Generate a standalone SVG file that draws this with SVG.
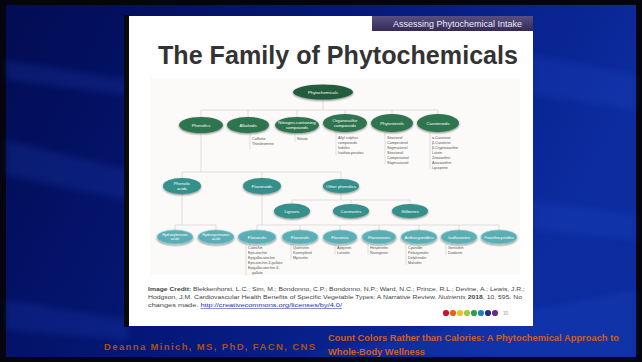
<svg xmlns="http://www.w3.org/2000/svg" width="642" height="362" viewBox="0 0 642 362">
<defs>
<linearGradient id="bg" x1="0" y1="0" x2="1" y2="0.3">
<stop offset="0" stop-color="#020c52"/>
<stop offset="0.5" stop-color="#05187a"/>
<stop offset="1" stop-color="#0c2ca0"/>
</linearGradient>
<linearGradient id="hdr" x1="0" y1="0" x2="0" y2="1">
<stop offset="0" stop-color="#5a5080"/>
<stop offset="1" stop-color="#332a58"/>
</linearGradient>
<filter id="sh" x="-30%" y="-40%" width="160%" height="200%">
<feGaussianBlur in="SourceAlpha" stdDeviation="0.8"/>
<feOffset dx="0.4" dy="0.8" result="b"/>
<feComponentTransfer><feFuncA type="linear" slope="0.5"/></feComponentTransfer>
<feMerge><feMergeNode/><feMergeNode in="SourceGraphic"/></feMerge>
</filter>
<filter id="soft" x="-10%" y="-10%" width="120%" height="120%">
<feGaussianBlur stdDeviation="3"/>
</filter>
</defs>
<style>
.l0{fill:#245c3c;filter:url(#sh)}
.l1{fill:#2d7450;filter:url(#sh)}
.l2{fill:#368f8a;filter:url(#sh)}
.l4{fill:#5aaeb4;stroke:#8fd3d8;stroke-width:0.6;filter:url(#sh)}
.nt{font-family:"Liberation Sans",Arial,sans-serif;font-size:4.3px;fill:#ffffff;text-anchor:middle}
.st{font-family:"Liberation Sans",Arial,sans-serif;font-size:3.7px;fill:#555555}
.cn{stroke:#cfcfcf;stroke-width:0.6;fill:none}
.br{stroke:#b8b8b8;stroke-width:0.4;fill:none}
.cr{font-family:"Liberation Sans",Arial,sans-serif;font-size:5.3px;fill:#444444}
</style>
<rect x="0" y="0" width="642" height="362" fill="#050510"/>
<rect x="6" y="5" width="630" height="352" fill="url(#bg)"/>
<g opacity="0.18" fill="#2a52d8" filter="url(#soft)">
<polygon points="6,140 128,170 128,200 6,175"/>
<polygon points="6,60 128,80 128,95 6,80"/>
<polygon points="533,55 636,75 636,110 533,95"/>
<polygon points="533,200 636,215 636,240 533,230"/>
<polygon points="300,357 636,290 636,357"/>
<polygon points="6,300 128,320 128,340 6,330"/>
</g>
<g id="slide">
<rect x="124" y="15" width="5" height="312" fill="#0a0a0a"/>
<rect x="129" y="16" width="404" height="310" fill="#ffffff"/>
<rect x="150" y="78" width="370" height="197" fill="#fbfaf8"/>
<rect x="372" y="16" width="161" height="15" fill="url(#hdr)"/>
<text x="393" y="27" font-family="'Liberation Sans',Arial,sans-serif" font-size="9" fill="#ececf4">Assessing Phytochemical Intake</text>
<text x="158" y="64" font-family="'Liberation Sans',Arial,sans-serif" font-size="25" font-weight="bold" fill="#333333" textLength="360" lengthAdjust="spacingAndGlyphs">The Family of Phytochemicals</text>
</g>
<g id="connectors">
<path class="cn" d="M323,99 V110 M201,110 H438 M201,110 V117 M248,110 V117 M297,110 V117 M345,110 V115 M392,110 V115 M438,110 V115"/>
<path class="cn" d="M201,133 V172 M182,172 H341 M182,172 V178 M262,172 V178 M341,172 V178"/>
<path class="cn" d="M341,194 V200 M292,200 H410 M292,200 V203 M351,200 V203 M410,200 V203"/>
<path class="cn" d="M182,194 V225 M175,225 H216 M175,225 V230 M216,225 V230"/>
<path class="cn" d="M262,194 V225 M257,225 H499 M257,225 V230 M300,225 V230 M340,225 V230 M379,225 V230 M419,225 V230 M459,225 V230 M499,225 V230"/>
<path class="br" d="M250,134 V149 M295,134 V142 M336,132 V155 M385,132 V164 M430,132 V169"/>
<path class="br" d="M246,244 V276 M291,244 V260 M335,244 V255 M368,244 V255 M406,244 V265 M446,244 V255"/>
</g>
<g id="n-phytochemicals"><ellipse class="l0" cx="323" cy="92" rx="30" ry="7.5"/><text class="nt" x="323" y="93.5">Phytochemicals</text></g>
<g id="n-phenolics"><ellipse class="l1" cx="201" cy="125" rx="22" ry="8"/><text class="nt" x="201" y="126.5">Phenolics</text></g>
<g id="n-alkaloids"><ellipse class="l1" cx="248" cy="125" rx="21" ry="8"/><text class="nt" x="248" y="126.5">Alkaloids</text>
<text class="st" x="252" y="140">Caffeine</text><text class="st" x="252" y="145">Theobromine</text></g>
<g id="n-nitrogen"><ellipse class="l1" cx="297" cy="125" rx="22" ry="8"/><text class="nt" x="297" y="124">Nitrogen-containing</text><text class="nt" x="297" y="129">compounds</text>
<text class="st" x="297" y="140">Nitrate</text></g>
<g id="n-organosulfur"><ellipse class="l1" cx="345" cy="123" rx="22" ry="9"/><text class="nt" x="345" y="122">Organosulfur</text><text class="nt" x="345" y="127">compounds</text>
<text class="st" x="338" y="139">Allyl sulphur</text><text class="st" x="338" y="144">compounds</text><text class="st" x="338" y="149">Indoles</text><text class="st" x="338" y="154">Isothiocyanates</text></g>
<g id="n-phytosterols"><ellipse class="l1" cx="392" cy="123" rx="21" ry="9"/><text class="nt" x="392" y="124.5">Phytosterols</text>
<text class="st" x="387" y="139">Sitosterol</text><text class="st" x="387" y="144">Campesterol</text><text class="st" x="387" y="149">Stigmasterol</text><text class="st" x="387" y="154">Sitostanol</text><text class="st" x="387" y="159">Campestanol</text><text class="st" x="387" y="164">Stigmastanol</text></g>
<g id="n-carotenoids"><ellipse class="l1" cx="438" cy="123" rx="21" ry="9"/><text class="nt" x="438" y="124.5">Carotenoids</text>
<text class="st" x="432" y="139">α-Carotene</text><text class="st" x="432" y="144">β-Carotene</text><text class="st" x="432" y="149">β-Cryptoxanthin</text><text class="st" x="432" y="154">Lutein</text><text class="st" x="432" y="159">Zeaxanthin</text><text class="st" x="432" y="164">Astaxanthin</text><text class="st" x="432" y="169">Lycopene</text></g>
<g id="n-phenolic-acids"><ellipse class="l2" cx="182" cy="186" rx="19" ry="8"/><text class="nt" x="182" y="185">Phenolic</text><text class="nt" x="182" y="190">acids</text></g>
<g id="n-flavonoids"><ellipse class="l2" cx="262" cy="186" rx="19" ry="8"/><text class="nt" x="262" y="187.5">Flavonoids</text></g>
<g id="n-other-phenolics"><ellipse class="l2" cx="341" cy="186" rx="18" ry="7"/><text class="nt" x="341" y="187.5">Other phenolics</text></g>
<g id="n-lignans"><ellipse class="l2" cx="292" cy="211" rx="18" ry="7.5"/><text class="nt" x="292" y="212.5">Lignans</text></g>
<g id="n-coumarins"><ellipse class="l2" cx="351" cy="211" rx="18" ry="7"/><text class="nt" x="351" y="212.5">Coumarins</text></g>
<g id="n-stilbenes"><ellipse class="l2" cx="410" cy="211" rx="18" ry="7"/><text class="nt" x="410" y="212.5">Stilbenes</text></g>
<g id="n-hydroxybenzoic"><ellipse class="l4" cx="175" cy="237" rx="18" ry="7"/><text class="nt" x="175" y="235.5" style="font-size:3.6px">Hydroxybenzoic</text><text class="nt" x="175" y="240" style="font-size:3.6px">acids</text></g>
<g id="n-hydroxycinnamic"><ellipse class="l4" cx="216" cy="237" rx="18" ry="7"/><text class="nt" x="216" y="235.5" style="font-size:3.6px">Hydroxycinnamic</text><text class="nt" x="216" y="240" style="font-size:3.6px">acids</text></g>
<g id="n-flavanols"><ellipse class="l4" cx="257" cy="237" rx="19" ry="7"/><text class="nt" x="257" y="238.5">Flavanols</text>
<text class="st" x="248" y="249">Catechin</text><text class="st" x="248" y="254">Epicatechin</text><text class="st" x="248" y="259">Epigallocatechin</text><text class="st" x="248" y="264">Epicatechin-3-gallate</text><text class="st" x="248" y="269">Epigallocatechin-3-</text><text class="st" x="252" y="274">gallate</text></g>
<g id="n-flavonols"><ellipse class="l4" cx="300" cy="237" rx="18" ry="7"/><text class="nt" x="300" y="238.5">Flavonols</text>
<text class="st" x="293" y="249">Quercetin</text><text class="st" x="293" y="254">Kaempferol</text><text class="st" x="293" y="259">Myricetin</text></g>
<g id="n-flavones"><ellipse class="l4" cx="340" cy="237" rx="17" ry="7"/><text class="nt" x="340" y="238.5">Flavones</text>
<text class="st" x="337" y="249">Apigenin</text><text class="st" x="337" y="254">Luteolin</text></g>
<g id="n-flavanones"><ellipse class="l4" cx="379" cy="237" rx="17" ry="7"/><text class="nt" x="379" y="238.5">Flavanones</text>
<text class="st" x="370" y="249">Hesperetin</text><text class="st" x="370" y="254">Naringenin</text></g>
<g id="n-anthocyanidins"><ellipse class="l4" cx="419" cy="237" rx="18" ry="7"/><text class="nt" x="419" y="238.5">Anthocyanidins</text>
<text class="st" x="408" y="249">Cyanidin</text><text class="st" x="408" y="254">Pelargonidin</text><text class="st" x="408" y="259">Delphinidin</text><text class="st" x="408" y="264">Malvidin</text></g>
<g id="n-isoflavones"><ellipse class="l4" cx="459" cy="237" rx="18" ry="7"/><text class="nt" x="459" y="238.5">Isoflavones</text>
<text class="st" x="448" y="249">Genistein</text><text class="st" x="448" y="254">Daidzein</text></g>
<g id="n-proanthocyanidins"><ellipse class="l4" cx="499" cy="237" rx="18" ry="7"/><text class="nt" x="499" y="238.5" style="font-size:3.6px">Proanthocyanidins</text></g>
<g id="credit">
<text class="cr" x="148" y="291" textLength="377" lengthAdjust="spacingAndGlyphs"><tspan font-weight="bold">Image Credit:</tspan> Blekkenhorst, L.C.; Sim, M.; Bondonno, C.P.; Bondonno, N.P.; Ward, N.C.; Prince, R.L.; Devine, A.; Lewis, J.R.;</text>
<text class="cr" x="148" y="299" textLength="374" lengthAdjust="spacingAndGlyphs">Hodgson, J.M. Cardiovascular Health Benefits of Specific Vegetable Types: A Narrative Review. <tspan font-style="italic">Nutrients</tspan> <tspan font-weight="bold">2018</tspan>, 10, 595. No</text>
<text class="cr" x="148" y="307" textLength="194" lengthAdjust="spacingAndGlyphs">changes made. <tspan fill="#2233aa" text-decoration="underline">http://creativecommons.org/licenses/by/4.0/</tspan></text>
</g>
<g id="dots">
<circle cx="446" cy="313" r="3.1" fill="#c4132f"/>
<circle cx="453" cy="313" r="3.1" fill="#e8641b"/>
<circle cx="460" cy="313" r="3.1" fill="#f0c02a"/>
<circle cx="467" cy="313" r="3.1" fill="#9ccc3c"/>
<circle cx="474" cy="313" r="3.1" fill="#2e9e4a"/>
<circle cx="481" cy="313" r="3.1" fill="#1f7fc1"/>
<circle cx="488" cy="313" r="3.1" fill="#23307a"/>
<circle cx="495" cy="313" r="3.1" fill="#6a2c8c"/>
<text x="503" y="315" font-family="'Liberation Sans',Arial,sans-serif" font-size="4.5" fill="#999999">30</text>
</g>
<g id="footer">
<text x="104" y="350" font-family="'Liberation Sans',Arial,sans-serif" font-size="9.5" font-weight="bold" fill="#a9501a" textLength="211" lengthAdjust="spacing">Deanna Minich, MS, PhD, FACN, CNS</text>
<text x="328" y="341" font-family="'Liberation Sans',Arial,sans-serif" font-size="9.5" font-weight="bold" fill="#cc5f1c" textLength="291" lengthAdjust="spacingAndGlyphs">Count Colors Rather than Calories: A Phytochemical Approach to</text>
<text x="328" y="355" font-family="'Liberation Sans',Arial,sans-serif" font-size="9.5" font-weight="bold" fill="#cc5f1c" textLength="97" lengthAdjust="spacingAndGlyphs">Whole-Body Wellness</text>
</g>
</svg>
